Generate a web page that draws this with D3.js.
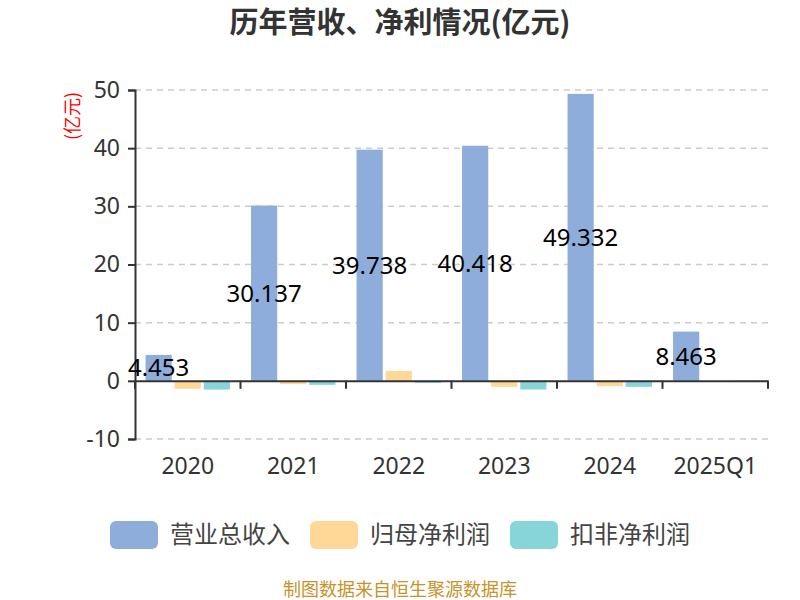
<!DOCTYPE html>
<html>
<head>
<meta charset="utf-8">
<script src="https://cdn.jsdelivr.net/npm/d3@7"></script>
<style>
  body { margin: 0; background: #fff; }
  text { font-family: "Noto Sans CJK SC", "Noto Sans", sans-serif; }
</style>
</head>
<body>
<div id="chart"></div>
<script>
"use strict";

const years = ['2020', '2021', '2022', '2023', '2024', '2025Q1']
const seriesNames = ['营业总收入', '归母净利润', '扣非净利润']
const revenue = [4.453, 30.137, 39.738, 40.418, 49.332, 8.463]
const netProfit = [-1.37, -0.57, 1.71, -1.03, -0.91, -0.2]
const deductedProfit = [-1.5, -0.69, -0.35, -1.49, -1.03, -0.2]
const yTicks = [-10, 0, 10, 20, 30, 40, 50]
const colors = ['#8eaddb', '#ffd898', '#87d5d8']

const width = 800
    , height = 600
    , margin = { left: 135, right: 32, top: 90, bottom: 161 }

const svg = d3.select('#chart').append('svg')
  .attr('width', width)
  .attr('height', height)

const x0 = d3.scaleBand()
  .domain(years)
  .range([margin.left, width - margin.right])
  .paddingInner(0.2)
  .paddingOuter(0.1)

const x1 = d3.scaleBand()
  .domain(seriesNames)
  .range([0, x0.bandwidth()])
  .paddingInner(0.1)

const y = d3.scaleLinear()
  .domain([-10, 50])
  .range([height - margin.bottom, margin.top])

// title
svg.append('text')
  .attr('x', width / 2)
  .attr('y', 33)
  .attr('text-anchor', 'middle')
  .attr('font-size', 29)
  .attr('font-weight', 'bold')
  .attr('fill', '#333')
  .text('历年营收、净利情况(亿元)')

// unit label
svg.append('text')
  .attr('transform', `translate(79,116) rotate(-90)`)
  .attr('text-anchor', 'middle')
  .attr('font-size', 18)
  .attr('fill', '#f00')
  .text('(亿元)')

// grid
svg.append('g')
  .selectAll('line')
  .data(yTicks.filter(d => d !== 0))
  .join('line')
  .attr('x1', margin.left)
  .attr('x2', width - margin.right)
  .attr('y1', d => y(d))
  .attr('y2', d => y(d))
  .attr('stroke', '#ccc')
  .attr('stroke-width', 1.5)
  .attr('stroke-dasharray', '6,5')

// y axis
const yAxisG = svg.append('g')
  .attr('transform', `translate(${margin.left},0)`)
  .call(d3.axisLeft(y).tickValues(yTicks).tickSize(7).tickPadding(8).tickFormat(d => String(d)))

yAxisG.select('path').attr('stroke', '#333').attr('stroke-width', 2)
yAxisG.selectAll('.tick line').attr('stroke', '#333').attr('stroke-width', 2)
yAxisG.selectAll('text')
  .attr('font-size', 23)
  .attr('fill', '#333')
  .style('font-family', '"Noto Sans", sans-serif')

// bars
const seriesData = [revenue, netProfit, deductedProfit]

const groups = svg.append('g')
  .selectAll('g')
  .data(seriesData)
  .join('g')
  .attr('fill', (d, i) => colors[i])

groups.selectAll('rect')
  .data((d, i) => d.map((v, j) => ({ v, year: years[j], name: seriesNames[i] })))
  .join('rect')
  .attr('x', d => x0(d.year) + x1(d.name))
  .attr('width', x1.bandwidth())
  .attr('y', d => y(Math.max(0, d.v)))
  .attr('height', d => Math.abs(y(d.v) - y(0)))

// x axis at zero
const xAxisG = svg.append('g')
  .attr('transform', `translate(0,${y(0)})`)
  .call(d3.axisBottom(x0).tickSize(0).tickPadding(0).tickFormat(''))

xAxisG.select('path').attr('stroke', '#333').attr('stroke-width', 2)

const boundaries = [margin.left].concat(years.map(yr => x0(yr) + x0.bandwidth() + x0.step() * x0.paddingInner() / 2))
  .map((v, i) => i === years.length ? width - margin.right : v)

xAxisG.selectAll('line.sep')
  .data(boundaries)
  .join('line')
  .attr('class', 'sep')
  .attr('x1', d => d)
  .attr('x2', d => d)
  .attr('y1', 0)
  .attr('y2', 8)
  .attr('stroke', '#333')
  .attr('stroke-width', 2)

// x labels below plot
svg.append('g')
  .selectAll('text')
  .data(years)
  .join('text')
  .attr('x', d => x0(d) + x0.bandwidth() / 2)
  .attr('y', y(-10) + 35)
  .attr('text-anchor', 'middle')
  .attr('font-size', 23)
  .attr('fill', '#333')
  .style('font-family', '"Noto Sans", sans-serif')
  .text(d => d)

// revenue value labels
svg.append('g')
  .selectAll('text')
  .data(revenue)
  .join('text')
  .attr('x', (d, i) => x0(years[i]) + x1(seriesNames[0]) + x1.bandwidth() / 2)
  .attr('y', d => y(d / 2))
  .attr('dy', '0.35em')
  .attr('text-anchor', 'middle')
  .attr('font-size', 24)
  .attr('fill', '#000')
  .style('font-family', '"Noto Sans", sans-serif')
  .text(d => d3.format('.3f')(d))

// legend
const legendX = [110, 310, 510]
const legend = svg.append('g')
  .selectAll('g')
  .data(seriesNames)
  .join('g')
  .attr('transform', (d, i) => `translate(${legendX[i]},521)`)

legend.append('rect')
  .attr('width', 48)
  .attr('height', 28)
  .attr('rx', 6)
  .attr('fill', (d, i) => colors[i])

legend.append('text')
  .attr('x', 60)
  .attr('y', 14)
  .attr('dy', '0.35em')
  .attr('font-size', 24)
  .attr('fill', '#444')
  .text(d => d)

// source
svg.append('text')
  .attr('x', width / 2)
  .attr('y', 596)
  .attr('text-anchor', 'middle')
  .attr('font-size', 18)
  .attr('fill', '#c8922a')
  .text('制图数据来自恒生聚源数据库')
</script>
</body>
</html>
